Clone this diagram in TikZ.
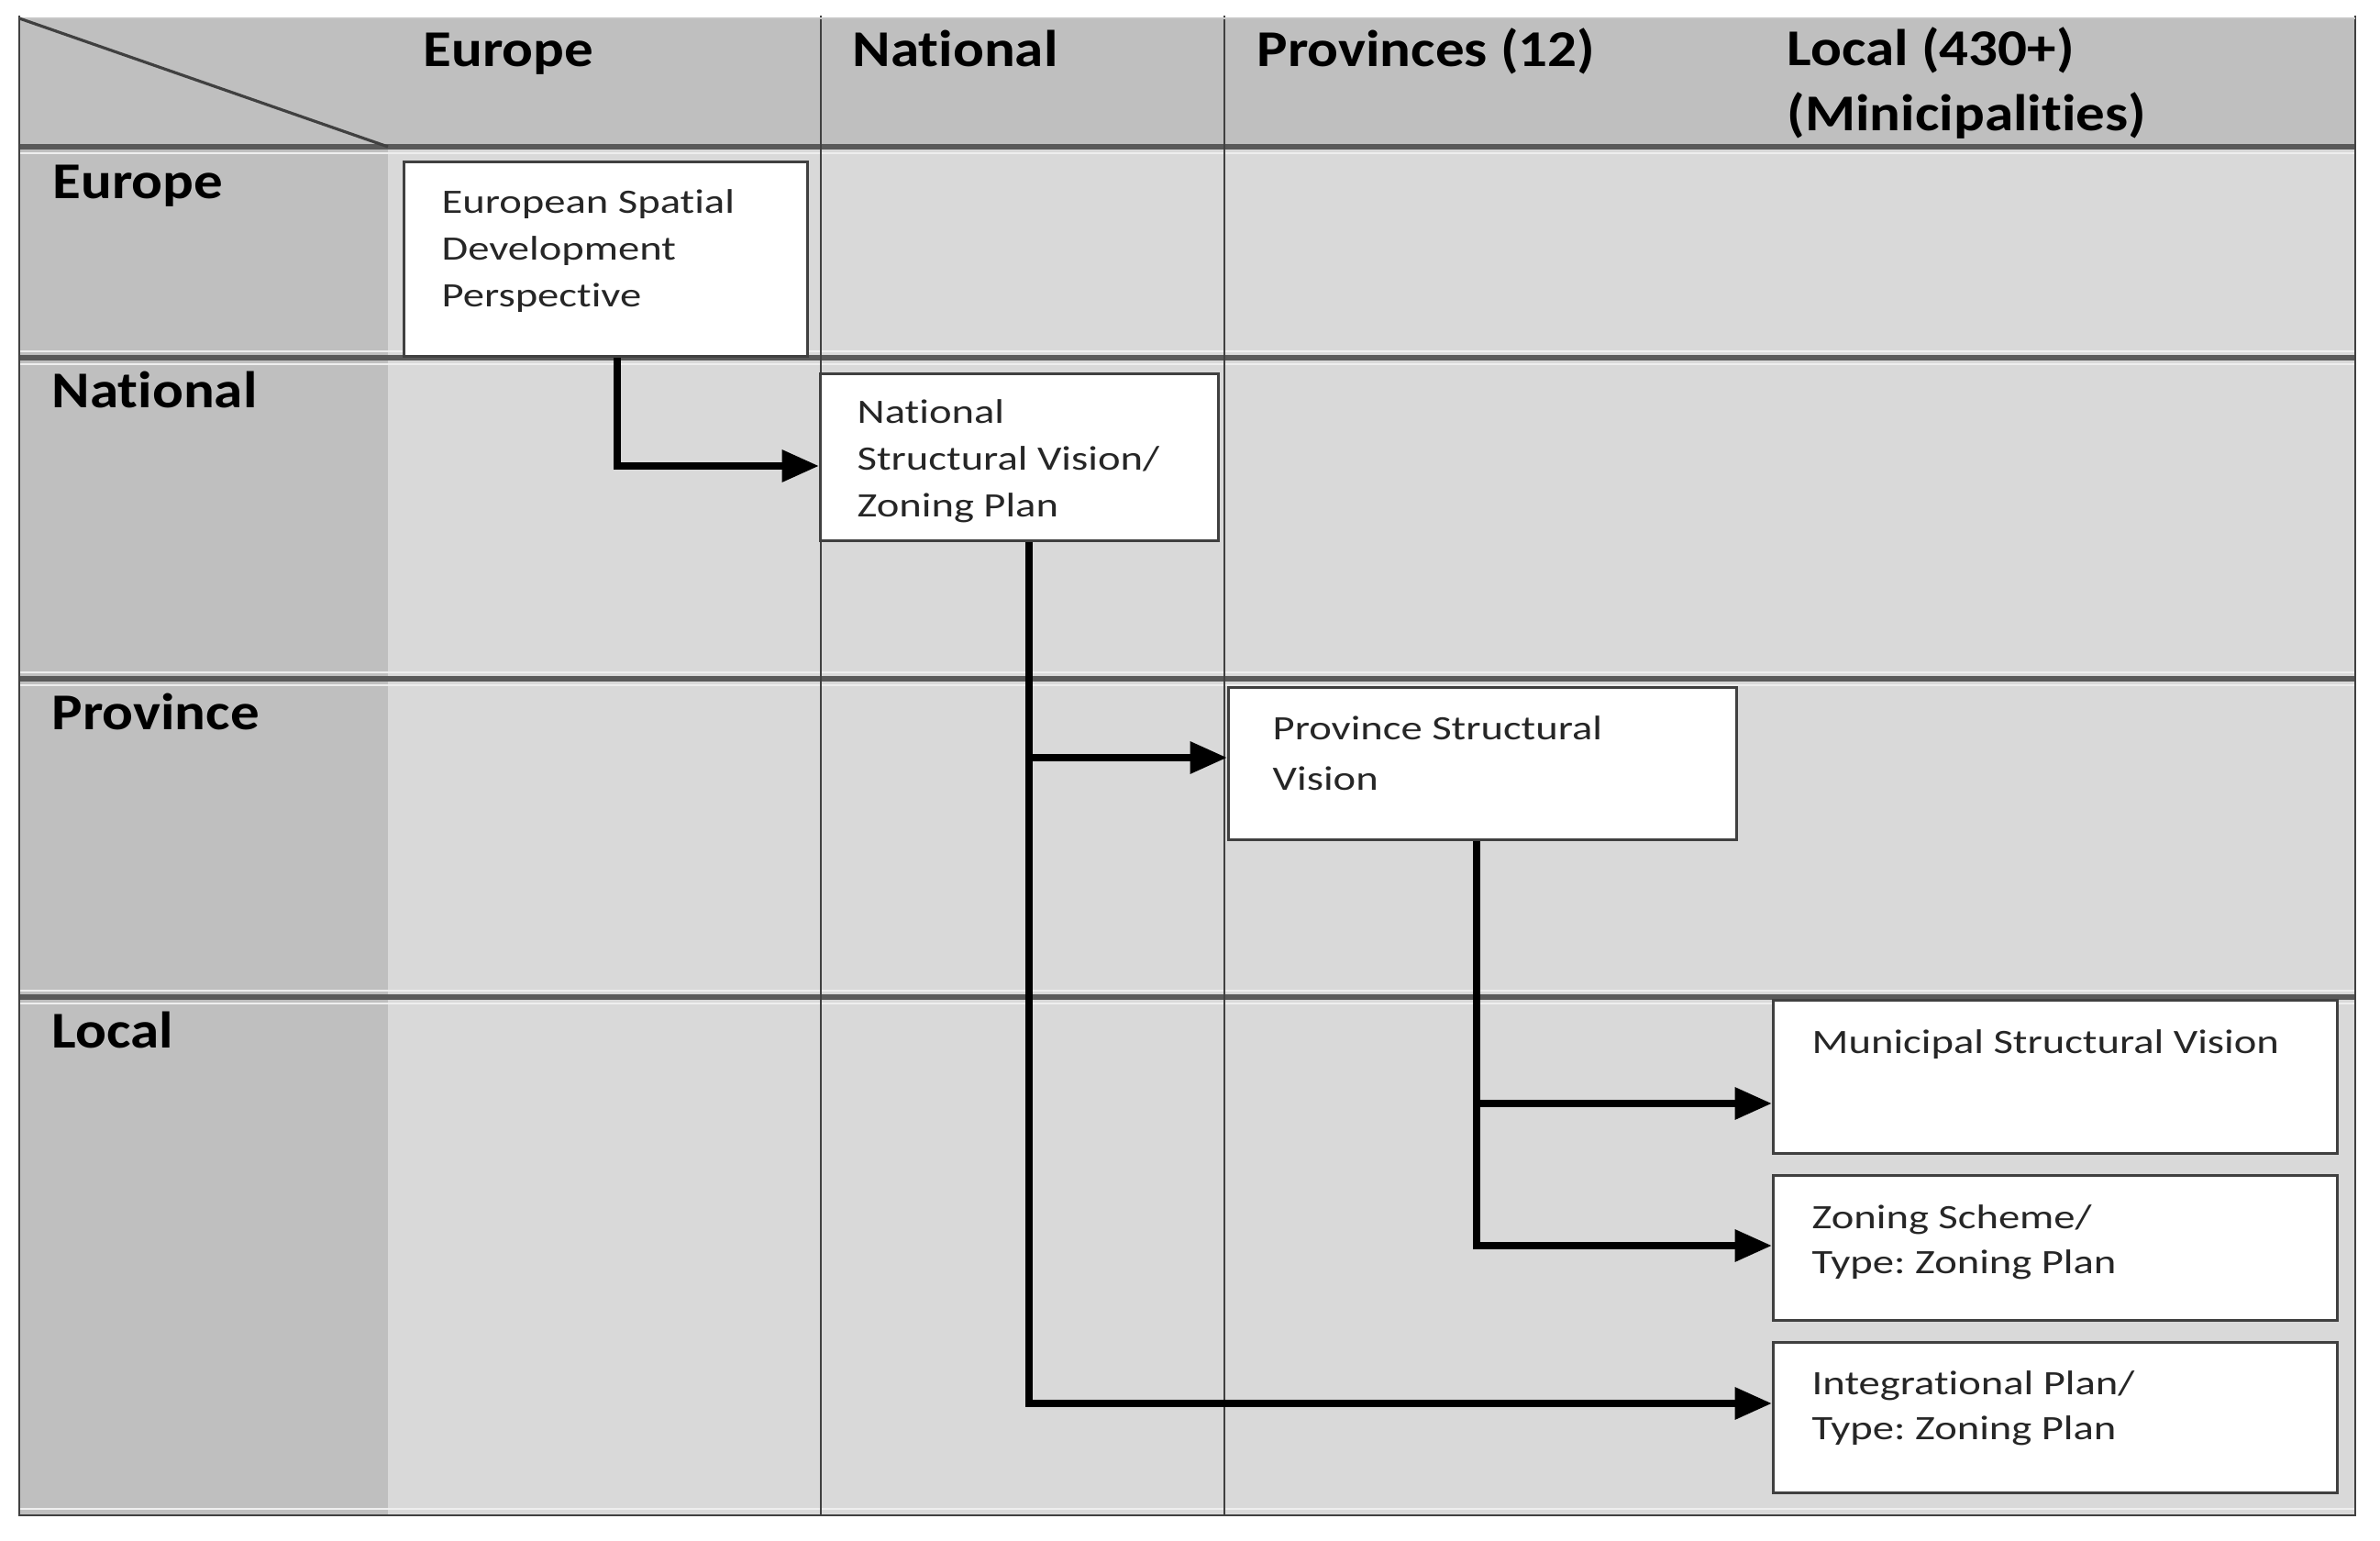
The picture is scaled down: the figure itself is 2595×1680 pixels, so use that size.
\documentclass[tikz,border=0pt]{standalone}
\usepackage{fontspec}
\setmainfont{Carlito}[Ligatures={NoCommon,NoContextual},Contextuals={NoAlternate}]
\newfontfamily\hdfont{Carlito}[FakeStretch=1.12,Ligatures={NoCommon,NoContextual},Contextuals={NoAlternate}]
\newfontfamily\bxfont{Carlito}[FakeStretch=1.25,Ligatures={NoCommon,NoContextual},Contextuals={NoAlternate}]
\usetikzlibrary{arrows.meta}
\definecolor{hdr}{HTML}{BFBFBF}
\definecolor{bodyg}{HTML}{D9D9D9}
\definecolor{rulec}{HTML}{595959}
\definecolor{edgec}{HTML}{404040}
\definecolor{lightc}{HTML}{EEEEEE}
\definecolor{txtc}{HTML}{262626}
\frenchspacing
\begin{document}
\begin{tikzpicture}[x=0.01cm,y=-0.01cm,
  hd/.style={anchor=base west,inner sep=0,text=black,font={\hdfont\bfseries\fontsize{16}{20}\selectfont}},
  bx/.style={anchor=base west,inner sep=0,text=txtc,font={\bxfont\fontsize{10.6}{14.5}\selectfont}},
  plan/.style={draw=edgec,line width=0.85pt,fill=white,anchor=north west,inner sep=0},
  conn/.style={line width=2.3pt,black,-{Triangle[length=11.5pt,width=9.5pt]}},
  rowrule/.style={rulec,line width=1.5pt},
  lite/.style={lightc,line width=0.7pt},
  colrule/.style={edgec,line width=0.7pt}
]
\useasboundingbox (0,0) rectangle (2595,1680);
\fill[white] (0,0) rectangle (2595,1680);

% table background
\fill[bodyg] (21,20) rectangle (2568,1652);
\fill[hdr] (21,20) rectangle (2568,160);
\fill[hdr] (21,160) rectangle (423,1652);

% light cell-margin lines
\foreach \yy in {167,383,397,733,747,1080,1094,1645}
  \draw[lite] (21,\yy) -- (2568,\yy);

% row rules
\foreach \yy in {160,390,740,1087}
  \draw[rowrule] (21,\yy) -- (2568,\yy);

% column rules
\draw[colrule] (895,17) -- (895,1652);
\draw[colrule] (1335,17) -- (1335,1652);

% outer border
\draw[edgec,line width=0.8pt] (21,17) -- (21,1652) -- (2568,1652) -- (2568,17);
\draw[gray!45,line width=0.8pt] (21,20) -- (2568,20);

% diagonal
\draw[edgec,line width=0.9pt] (21,20) -- (423,160);

% header texts
\node[hd] (hEur) at (461,73) {Europe};
\node[hd] (hNat) at (929,73) {National};
\node[hd] (hProv) at (1370,73) {Provinces (12)};
\node[hd] (hLoc) at (1948,72) {\parbox[t]{8cm}{\raggedright Local (430+)\\(Minicipalities)}};

% row labels
\node[hd] (rEur) at (57,217) {Europe};
\node[hd] (rNat) at (56,445) {National};
\node[hd] (rProv) at (56,796) {Province};
\node[hd] (rLoc) at (56,1142) {Local};

% plan boxes
\node[plan,minimum width=4.40cm,minimum height=2.12cm] (esdp) at (439,175) {};
\node[plan,minimum width=4.34cm,minimum height=1.82cm] (nat) at (893,406) {};
\node[plan,minimum width=5.54cm,minimum height=1.66cm] (prov) at (1338,748) {};
\node[plan,minimum width=6.15cm,minimum height=1.67cm] (mun) at (1932,1089) {};
\node[plan,minimum width=6.15cm,minimum height=1.58cm] (zon) at (1932,1280) {};
\node[plan,minimum width=6.15cm,minimum height=1.64cm] (integ) at (1932,1462) {};

% box texts
\node[bx] (esdpT) at (481,233) {\parbox[t]{8cm}{\raggedright European Spatial\\Development\\Perspective}};
\node[bx] (natT) at (934,462) {\parbox[t]{8cm}{\raggedright National\\Structural Vision/\\Zoning Plan}};
\node[bx,font={\bxfont\fontsize{10.6}{15.6}\selectfont}] (provT) at (1387,807) {\parbox[t]{8cm}{\raggedright Province Structural\\Vision}};
\node[bx] (munT) at (1975,1148) {Municipal Structural Vision};
\node[bx,font={\bxfont\fontsize{10.6}{14}\selectfont}] (zonT) at (1975,1339) {\parbox[t]{8cm}{\raggedright Zoning Scheme/\\Type: Zoning Plan}};
\node[bx,font={\bxfont\fontsize{10.6}{14.2}\selectfont}] (integT) at (1975,1520) {\parbox[t]{8cm}{\raggedright Integrational Plan/\\Type: Zoning Plan}};

% connector turn points
\coordinate (t1) at (673,508);
\coordinate (t2) at (1122,1530);
\coordinate (t3) at (1122,826);
\coordinate (t4) at (1610,1358);
\coordinate (t5) at (1610,1203);

% connectors
\draw[conn] (esdp.south -| t1) |- (nat.west |- t1);
\draw[conn] (nat.south -| t2) |- (integ.west |- t2);
\draw[conn] (t3) -- (prov.west |- t3);
\draw[conn] (prov.south -| t4) |- (zon.west |- t4);
\draw[conn] (t5) -- (mun.west |- t5);
\end{tikzpicture}
\end{document}
